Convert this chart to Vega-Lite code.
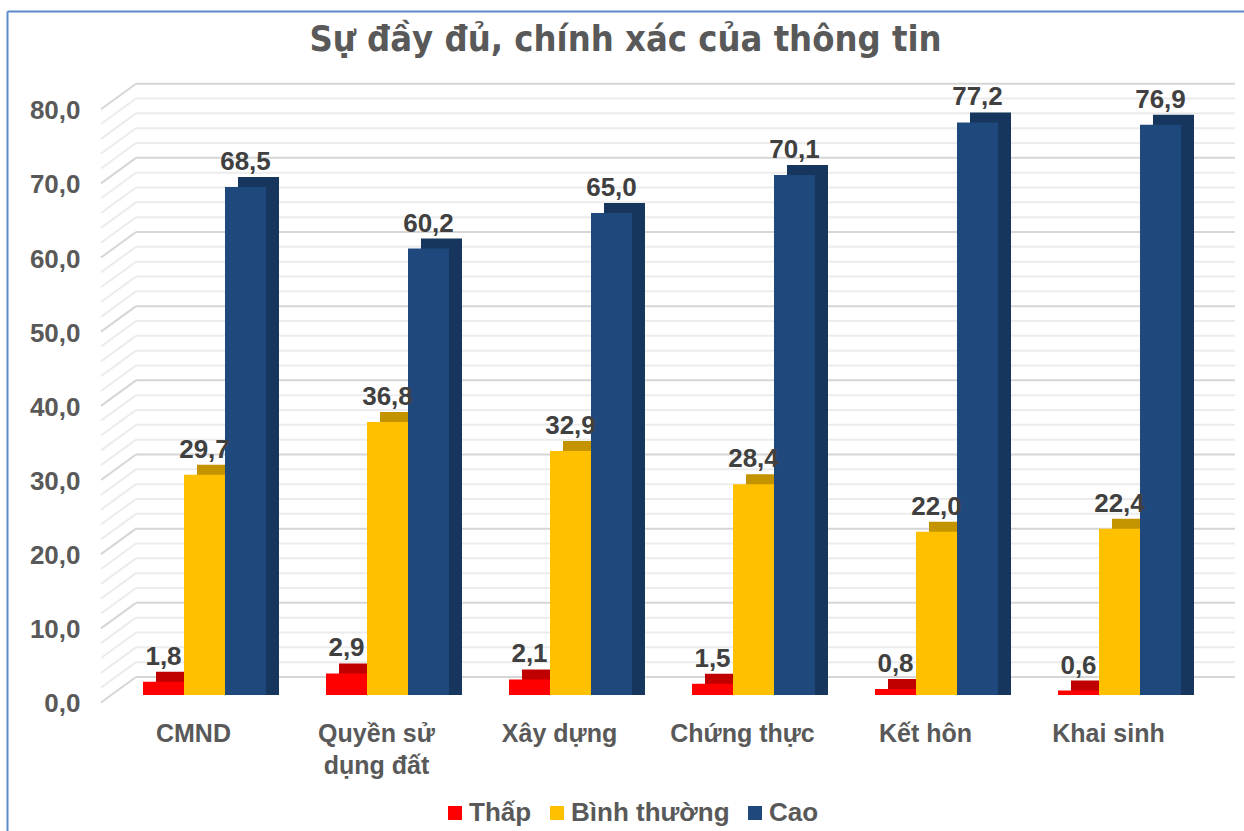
{
  "$schema": "https://vega.github.io/schema/vega-lite/v6.json",
  "width": 1237,
  "height": 820,
  "autosize": {"type": "none"},
  "padding": {"left": 7, "top": 11, "right": 0, "bottom": 0},
  "background": "white",
  "config": {
    "view": {"stroke": null},
    "locale": {"number": {"decimal": ",", "thousands": ".", "grouping": [3], "currency": ["", ""]}}
  },
  "title": {
    "text": "Sự đầy đủ, chính xác của thông tin",
    "anchor": "middle",
    "offset": -48,
    "font": "DejaVu Sans Condensed, Liberation Sans, sans-serif",
    "fontSize": 36,
    "fontWeight": "bold",
    "color": "#595959"
  },
  "datasets": {
    "bars": [
      {"cat": "CMND", "series": "Thấp", "v": 1.8},
      {"cat": "CMND", "series": "Bình thường", "v": 29.7},
      {"cat": "CMND", "series": "Cao", "v": 68.5},
      {"cat": "Quyền sử dụng đất", "series": "Thấp", "v": 2.9},
      {"cat": "Quyền sử dụng đất", "series": "Bình thường", "v": 36.8},
      {"cat": "Quyền sử dụng đất", "series": "Cao", "v": 60.2},
      {"cat": "Xây dựng", "series": "Thấp", "v": 2.1},
      {"cat": "Xây dựng", "series": "Bình thường", "v": 32.9},
      {"cat": "Xây dựng", "series": "Cao", "v": 65.0},
      {"cat": "Chứng thực", "series": "Thấp", "v": 1.5},
      {"cat": "Chứng thực", "series": "Bình thường", "v": 28.4},
      {"cat": "Chứng thực", "series": "Cao", "v": 70.1},
      {"cat": "Kết hôn", "series": "Thấp", "v": 0.8},
      {"cat": "Kết hôn", "series": "Bình thường", "v": 22.0},
      {"cat": "Kết hôn", "series": "Cao", "v": 77.2},
      {"cat": "Khai sinh", "series": "Thấp", "v": 0.6},
      {"cat": "Khai sinh", "series": "Bình thường", "v": 22.4},
      {"cat": "Khai sinh", "series": "Cao", "v": 76.9}
    ],
    "grid": [
      {"g": 0, "k": "major"}, {"g": 2, "k": "minor"}, {"g": 4, "k": "minor"}, {"g": 6, "k": "minor"}, {"g": 8, "k": "minor"},
      {"g": 10, "k": "major"}, {"g": 12, "k": "minor"}, {"g": 14, "k": "minor"}, {"g": 16, "k": "minor"}, {"g": 18, "k": "minor"},
      {"g": 20, "k": "major"}, {"g": 22, "k": "minor"}, {"g": 24, "k": "minor"}, {"g": 26, "k": "minor"}, {"g": 28, "k": "minor"},
      {"g": 30, "k": "major"}, {"g": 32, "k": "minor"}, {"g": 34, "k": "minor"}, {"g": 36, "k": "minor"}, {"g": 38, "k": "minor"},
      {"g": 40, "k": "major"}, {"g": 42, "k": "minor"}, {"g": 44, "k": "minor"}, {"g": 46, "k": "minor"}, {"g": 48, "k": "minor"},
      {"g": 50, "k": "major"}, {"g": 52, "k": "minor"}, {"g": 54, "k": "minor"}, {"g": 56, "k": "minor"}, {"g": 58, "k": "minor"},
      {"g": 60, "k": "major"}, {"g": 62, "k": "minor"}, {"g": 64, "k": "minor"}, {"g": 66, "k": "minor"}, {"g": 68, "k": "minor"},
      {"g": 70, "k": "major"}, {"g": 72, "k": "minor"}, {"g": 74, "k": "minor"}, {"g": 76, "k": "minor"}, {"g": 78, "k": "minor"},
      {"g": 80, "k": "major"}
    ]
  },
  "layer": [
    {
      "data": {"name": "grid"},
      "mark": {"type": "rule", "strokeWidth": 2, "xOffset": -7, "x2Offset": 54, "yOffset": -18},
      "encoding": {
        "x": {"datum": "CMND", "type": "nominal", "bandPosition": 0,
              "scale": {"type": "band", "domain": ["CMND", "Quyền sử dụng đất", "Xây dựng", "Chứng thực", "Kết hôn", "Khai sinh"], "paddingInner": 0.32787, "paddingOuter": 0.5437, "align": 0.6834},
              "axis": {"orient": "top", "offset": 0, "labels": false, "ticks": false, "grid": false, "title": null, "domainColor": "#5B8BCB", "domainWidth": 2}},
        "x2": {"datum": "Khai sinh", "bandPosition": 1},
        "y": {"field": "g", "type": "quantitative",
              "scale": {"domain": [-18.34, 92.23], "nice": false, "zero": false},
              "axis": {"orient": "left", "offset": 0, "labels": false, "ticks": false, "grid": false, "title": null, "domainColor": "#5B8BCB", "domainWidth": 2}},
        "color": {"condition": {"test": "datum.k == 'major'", "value": "#d6d6d6"}, "value": "#ececec"}
      }
    },
    {
      "data": {"name": "grid"},
      "mark": {"type": "rule", "strokeWidth": 2, "xOffset": -42, "x2Offset": -7, "yOffset": 7.5, "y2Offset": -18},
      "encoding": {
        "x": {"datum": "CMND", "type": "nominal", "bandPosition": 0, "axis": null},
        "x2": {"datum": "CMND", "bandPosition": 0},
        "y": {"field": "g", "type": "quantitative", "axis": null},
        "y2": {"field": "g"},
        "color": {"condition": {"test": "datum.k == 'major'", "value": "#d6d6d6"}, "value": "#ececec"}
      }
    },
    {
      "data": {"name": "bars"},
      "transform": [{"filter": "datum.series == 'Thấp'"}],
      "mark": {"type": "bar", "width": {"band": 0.33333}, "xOffset": -28, "yOffset": -10, "color": "#c00000"},
      "encoding": {
        "x": {"field": "cat", "type": "nominal", "sort": null, "axis": null},
        "y": {"field": "v", "type": "quantitative", "axis": null},
        "y2": {"datum": 0}
      }
    },
    {
      "data": {"name": "bars"},
      "transform": [{"filter": "datum.series == 'Bình thường'"}],
      "mark": {"type": "bar", "width": {"band": 0.33333}, "xOffset": 13, "yOffset": -10, "color": "#c49400"},
      "encoding": {
        "x": {"field": "cat", "type": "nominal", "sort": null, "axis": null},
        "y": {"field": "v", "type": "quantitative", "axis": null},
        "y2": {"datum": 0}
      }
    },
    {
      "data": {"name": "bars"},
      "transform": [{"filter": "datum.series == 'Cao'"}],
      "mark": {"type": "bar", "width": {"band": 0.33333}, "xOffset": 54, "yOffset": -10, "color": "#17365d"},
      "encoding": {
        "x": {"field": "cat", "type": "nominal", "sort": null, "axis": null},
        "y": {"field": "v", "type": "quantitative", "axis": null},
        "y2": {"datum": 0}
      }
    },
    {
      "data": {"name": "bars"},
      "mark": {"type": "bar"},
      "encoding": {
        "x": {"field": "cat", "type": "nominal", "sort": null,
              "axis": {"orient": "bottom", "offset": -136, "labelPadding": 26, "ticks": false, "domain": false, "grid": false, "title": null, "labelAngle": 0,
                       "labelFont": "Liberation Sans", "labelFontSize": 25, "labelFontWeight": "bold", "labelColor": "#595959",
                       "labelBaseline": "top", "labelLineHeight": 32, "labelOffset": -11, "labelLimit": 400,
                       "labelExpr": "datum.value == 'Quyền sử dụng đất' ? ['Quyền sử', 'dụng đất'] : datum.label"}},
        "xOffset": {"field": "series", "type": "nominal", "scale": {"domain": ["Thấp", "Bình thường", "Cao"], "paddingInner": 0, "paddingOuter": 0}},
        "y": {"field": "v", "type": "quantitative",
              "axis": {"orient": "left", "offset": -73, "values": [0, 10, 20, 30, 40, 50, 60, 70, 80], "format": ".1f", "labelPadding": 0, "ticks": false, "domain": false, "grid": false, "title": null,
                       "labelFont": "Liberation Sans", "labelFontSize": 26, "labelFontWeight": "bold", "labelColor": "#595959", "labelOffset": 9}},
        "y2": {"datum": 0},
        "color": {"field": "series", "type": "nominal",
                  "scale": {"domain": ["Thấp", "Bình thường", "Cao"], "range": ["#ff0000", "#ffc000", "#1f497d"]},
                  "legend": {"orient": "none", "legendX": 435, "legendY": 789, "direction": "horizontal", "title": null, "padding": 0,
                             "symbolType": "square", "symbolSize": 196, "symbolStrokeWidth": 0,
                             "labelFont": "Liberation Sans", "labelFontSize": 26, "labelFontWeight": "bold", "labelColor": "#595959",
                             "columnPadding": 12, "labelOffset": 1, "labelLimit": 400}}
      }
    },
    {
      "data": {"name": "bars"},
      "mark": {"type": "text", "dy": -17, "baseline": "alphabetic", "font": "Liberation Sans", "fontWeight": "bold", "fontSize": 26, "color": "#404040"},
      "encoding": {
        "x": {"field": "cat", "type": "nominal", "sort": null, "axis": null},
        "xOffset": {"field": "series", "type": "nominal"},
        "y": {"field": "v", "type": "quantitative", "axis": null},
        "text": {"field": "v", "type": "quantitative", "format": ".1f"}
      }
    }
  ],
  "resolve": {"axis": {"x": "independent", "y": "independent"}}
}
